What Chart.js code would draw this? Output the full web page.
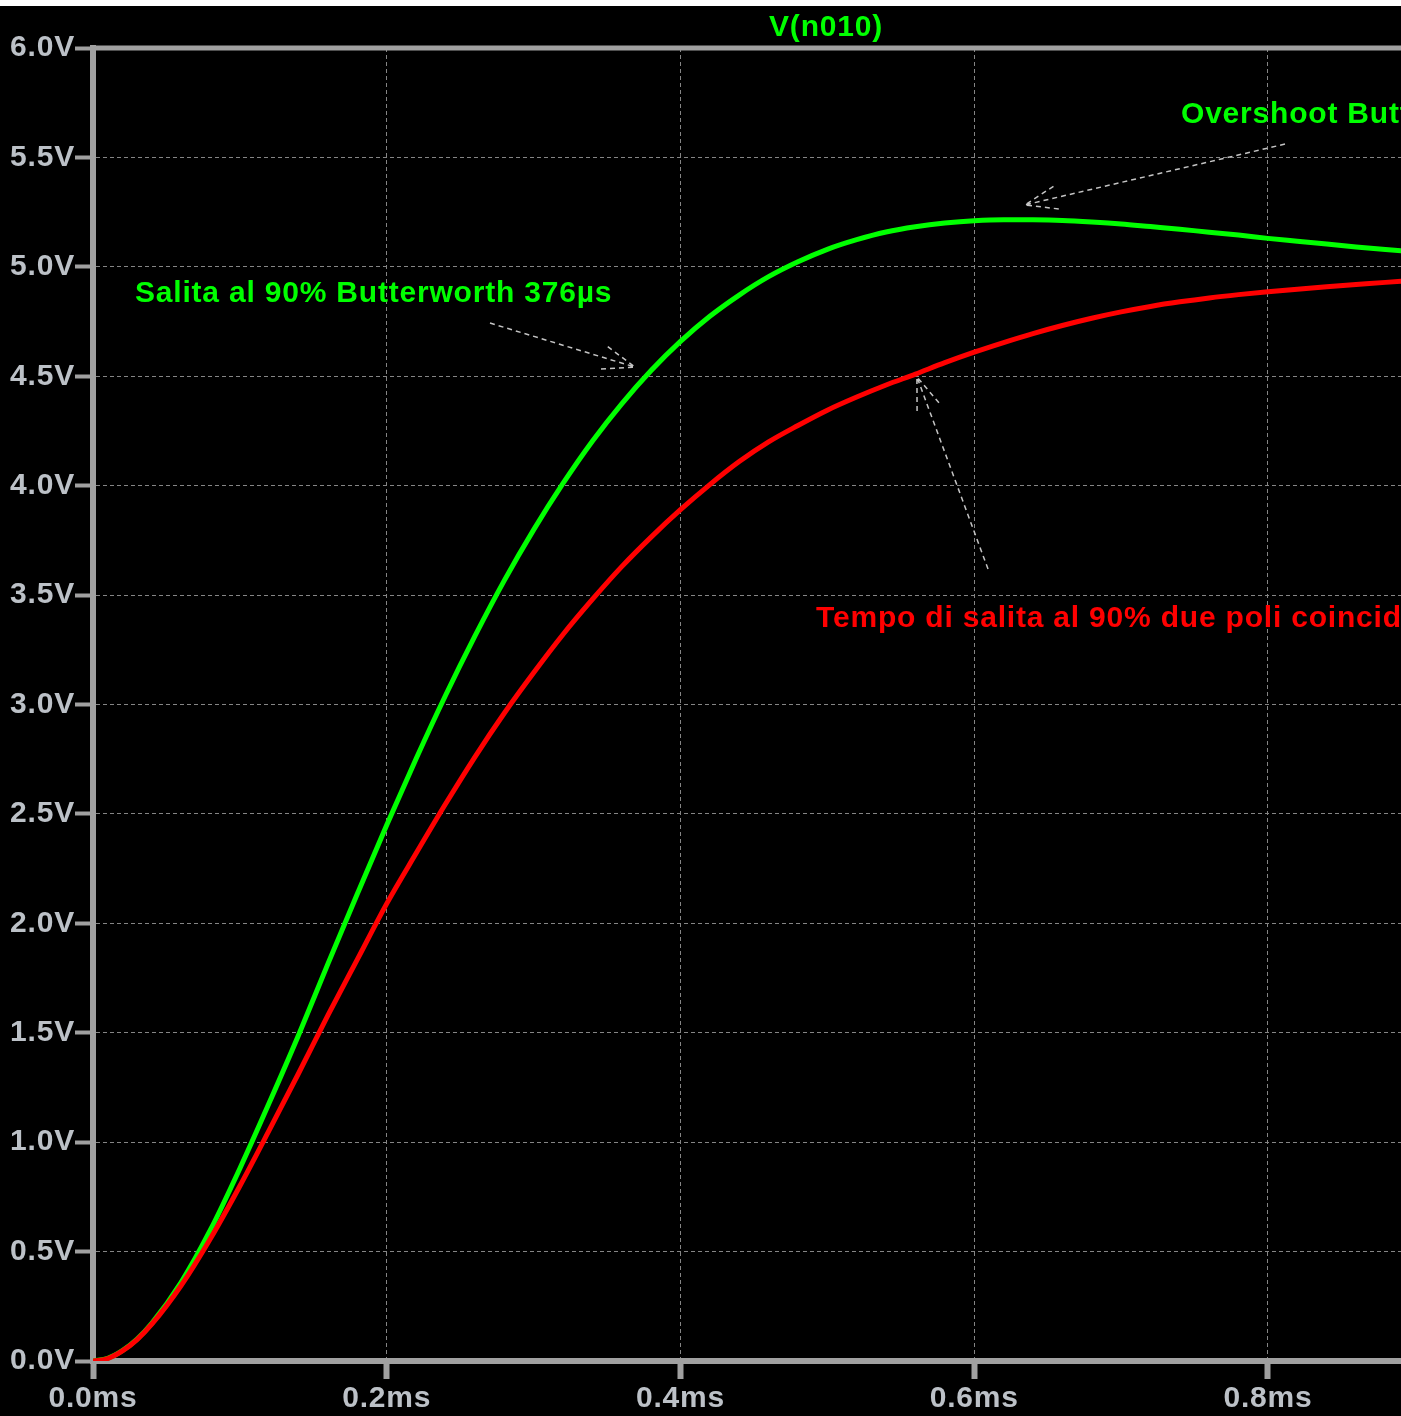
<!DOCTYPE html>
<html>
<head>
<meta charset="utf-8">
<script src="https://cdn.jsdelivr.net/npm/chart.js@4.4.1/dist/chart.umd.min.js"></script>
<style>
  html, body { margin: 0; padding: 0; background: #000; }
  #wrap { position: relative; width: 1401px; height: 1416px; }
</style>
</head>
<body>
<div id="wrap"><canvas id="chart"></canvas></div>
<script>
// Risposta al gradino: Butterworth (verde) vs due poli coincidenti (rosso)

const TIME_MS = [0, 0.01, 0.02, 0.03, 0.04, 0.06, 0.08, 0.10, 0.12, 0.14, 0.16, 0.18, 0.20, 0.22, 0.24, 0.26, 0.28,
  0.30, 0.32, 0.34, 0.36, 0.38, 0.40, 0.42, 0.44, 0.46, 0.48, 0.50, 0.52, 0.54, 0.56, 0.58, 0.60,
  0.62, 0.64, 0.66, 0.68, 0.70, 0.72, 0.74, 0.76, 0.78, 0.80, 0.82, 0.84, 0.86, 0.88, 0.90];

const V_BUTTERWORTH = [0, 0.012, 0.047, 0.10, 0.172, 0.36, 0.60, 0.88, 1.18, 1.49, 1.816, 2.135, 2.449, 2.752, 3.041, 3.312, 3.566,
  3.798, 4.01, 4.203, 4.374, 4.526, 4.659, 4.774, 4.871, 4.955, 5.023, 5.08, 5.124, 5.159, 5.183, 5.20, 5.211,
  5.2155, 5.215, 5.212, 5.205, 5.196, 5.184, 5.172, 5.158, 5.145, 5.13, 5.117, 5.104, 5.091, 5.079, 5.068];

const V_DUE_POLI = [0, 0.011, 0.046, 0.098, 0.168, 0.345, 0.56, 0.80, 1.055, 1.315, 1.58, 1.835, 2.09, 2.32, 2.545, 2.76, 2.96,
  3.145, 3.32, 3.48, 3.63, 3.765, 3.89, 4.005, 4.11, 4.20, 4.275, 4.345, 4.405, 4.46, 4.51, 4.562, 4.61,
  4.654, 4.695, 4.732, 4.765, 4.794, 4.819, 4.84, 4.858, 4.873, 4.886, 4.898, 4.909, 4.919, 4.929, 4.938];

const X_TICKS = [0, 0.2, 0.4, 0.6, 0.8];
const Y_TICKS = [0, 0.5, 1.0, 1.5, 2.0, 2.5, 3.0, 3.5, 4.0, 4.5, 5.0, 5.5, 6.0];

const TRACE_NAME = "V(n010)";

const COLORS = {
  green: "#00ff00",
  red: "#ff0000",
  axis: "#a0a0a0",
  grid: "#858585",
  label: "#bcc1c7",
  arrow: "#c4c4c4",
};

const FONT = "'Liberation Sans', Arial, sans-serif";

// note testuali (t in ms, v in volt, ancorate alla linea di base)
const NOTES = [
  { text: "Overshoot Butterworth 4.3%", color: COLORS.green, t: 0.7408, v: 5.657 },
  { text: "Salita al 90% Butterworth 376µs", color: COLORS.green, t: 0.0286, v: 4.839 },
  { text: "Tempo di salita al 90% due poli coincidenti 562µs", color: COLORS.red, t: 0.4923, v: 3.354 },
];

// frecce tratteggiate (da -> punta)
const ARROWS = [
  { from: [0.8116, 5.561], to: [0.6346, 5.283] },
  { from: [0.2703, 4.743], to: [0.3690, 4.542] },
  { from: [0.6094, 3.619], to: [0.5610, 4.497] },
];

const decor = {
  id: "decor",
  beforeDraw(chart) {
    const { ctx, width, height } = chart;
    ctx.fillStyle = "#000";
    ctx.fillRect(0, 0, width, height);
    ctx.letterSpacing = "0.8px";
  },
  afterDraw(chart) {
    const { ctx, chartArea, width } = chart;
    const xs = chart.scales.x, ys = chart.scales.y;

    // cornice superiore
    ctx.save();
    ctx.strokeStyle = COLORS.axis;
    ctx.lineWidth = 5;
    ctx.beginPath();
    ctx.moveTo(chartArea.left - 3, chartArea.top);
    ctx.lineTo(width, chartArea.top);
    ctx.stroke();
    ctx.restore();

    // frecce
    ctx.save();
    ctx.strokeStyle = COLORS.arrow;
    ctx.lineWidth = 1.5;
    ctx.setLineDash([5, 4]);
    ARROWS.forEach((a) => {
      const x1 = xs.getPixelForValue(a.from[0]), y1 = ys.getPixelForValue(a.from[1]);
      const x2 = xs.getPixelForValue(a.to[0]), y2 = ys.getPixelForValue(a.to[1]);
      const ang = Math.atan2(y1 - y2, x1 - x2);
      ctx.beginPath();
      ctx.moveTo(x1, y1);
      ctx.lineTo(x2, y2);
      [-0.35, 0.35].forEach((d) => {
        ctx.moveTo(x2 + 34 * Math.cos(ang + d), y2 + 34 * Math.sin(ang + d));
        ctx.lineTo(x2, y2);
      });
      ctx.stroke();
    });
    ctx.restore();

    // testi
    ctx.save();
    ctx.font = `bold 30px ${FONT}`;
    ctx.letterSpacing = "0.8px";
    ctx.textBaseline = "alphabetic";
    ctx.textAlign = "left";
    NOTES.forEach((n) => {
      ctx.fillStyle = n.color;
      ctx.fillText(n.text, xs.getPixelForValue(n.t), ys.getPixelForValue(n.v));
    });
    // nome traccia, centrato sull'intera area del grafico
    ctx.fillStyle = COLORS.green;
    ctx.textAlign = "center";
    ctx.fillText(TRACE_NAME, xs.getPixelForValue(0.4991), ys.getPixelForValue(6.055));
    ctx.restore();

    // bordo bianco in alto
    ctx.fillStyle = "#fff";
    ctx.fillRect(0, 0, width, 6);
  },
};

const tickFont = { size: 30, weight: "bold", family: FONT };

new Chart(document.getElementById("chart"), {
  type: "line",
  data: {
    datasets: [
      {
        label: "due poli coincidenti",
        data: TIME_MS.map((t, i) => ({ x: t, y: V_DUE_POLI[i] })),
        borderColor: COLORS.red,
        borderWidth: 5,
        pointRadius: 0,
        cubicInterpolationMode: "monotone",
        order: 0,
      },
      {
        label: "Butterworth",
        data: TIME_MS.map((t, i) => ({ x: t, y: V_BUTTERWORTH[i] })),
        borderColor: COLORS.green,
        borderWidth: 5,
        pointRadius: 0,
        cubicInterpolationMode: "monotone",
        order: 1,
      },
    ],
  },
  options: {
    responsive: true,
    maintainAspectRatio: false,
    animation: false,
    layout: { padding: { top: 48, right: 0, left: 0, bottom: 0 } },
    plugins: { legend: { display: false }, tooltip: { enabled: false } },
    scales: {
      x: {
        type: "linear",
        min: 0,
        max: 0.8906,
        afterBuildTicks: (s) => { s.ticks = X_TICKS.map((v) => ({ value: v })); },
        afterFit: (s) => { s.height = 55; },
        ticks: {
          color: COLORS.label, font: tickFont, padding: 2, maxRotation: 0, autoSkip: false,
          callback: (v) => Number(v).toFixed(1) + "ms",
        },
        grid: { color: COLORS.grid, lineWidth: 1, tickLength: 18, tickWidth: 6, tickColor: COLORS.axis },
        border: { display: true, color: COLORS.axis, width: 6, dash: [4, 3] },
      },
      y: {
        type: "linear",
        min: 0,
        max: 6,
        afterBuildTicks: (s) => { s.ticks = Y_TICKS.map((v) => ({ value: v })); },
        afterFit: (s) => { s.width = 93; },
        ticks: {
          color: COLORS.label, font: tickFont, padding: 0, autoSkip: false,
          callback: (v) => Number(v).toFixed(1) + "V",
        },
        grid: { color: COLORS.grid, lineWidth: 1, tickLength: 18, tickWidth: 4, tickColor: COLORS.axis },
        border: { display: true, color: COLORS.axis, width: 6, dash: [4, 3] },
      },
    },
  },
  plugins: [decor],
});
</script>
</body>
</html>
